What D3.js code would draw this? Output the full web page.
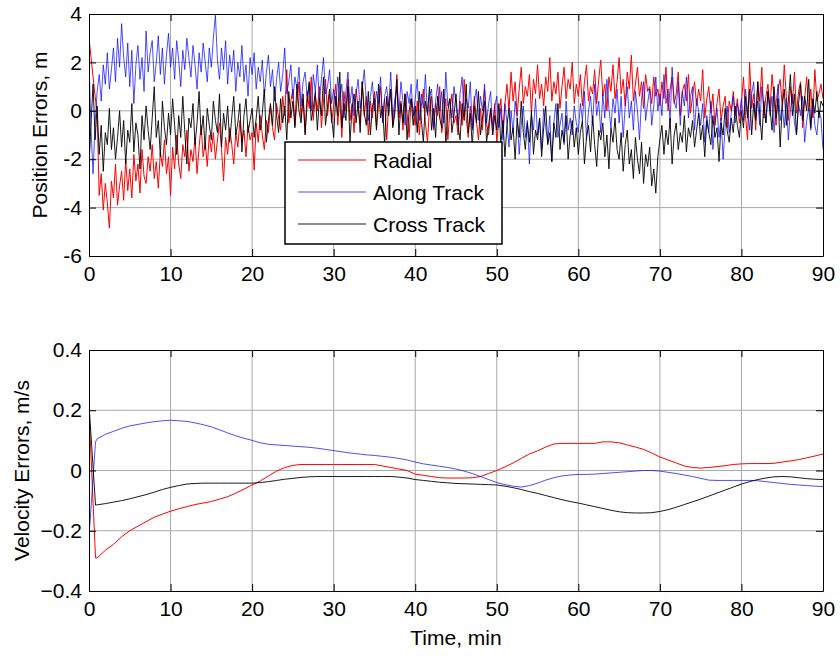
<!DOCTYPE html>
<html>
<head>
<meta charset="utf-8">
<script src="https://cdn.jsdelivr.net/npm/d3@7"></script>
<style>
  body { margin: 0; background: #fff; }
  svg { display: block; font-family: "Liberation Sans", Arial, sans-serif; }
</style>
</head>
<body>
<div id="chart"></div>
<script>
// ---- data: position errors, sampled every 0.25 min over 0..90 min ----
const radial = [
  3.0, 2.2, 1.4, 0.6, -0.1, -3.5, -2.6, -4.1, -3.0, -3.8, -4.85, -2.9, -3.6, -2.2, -3.9, -3.1, -2.5, -3.7, -2.0, -3.3,
  -2.4, -3.6, -1.8, -2.9, -2.2, -3.4, -1.6, -2.7, -3.0, -1.9, -2.5, -1.4, -2.8, -2.1, -3.2, -1.7, -2.3, -1.2, -2.6, -1.9,
  -3.5, -1.5, -2.4, -1.0, -2.2, -2.8, -1.4, -1.9, -0.8, -2.5, -1.6, -2.1, -1.1, -2.6, -1.5, -0.6, -1.9, -1.3, -2.3, -1.0,
  -1.7, -0.9, -2.0, -1.2, -0.5, -1.6, -2.9, -1.1, -1.8, -0.7, -1.4, -2.2, -0.9, -1.5, -0.4, -1.3, -0.8, -1.9, -0.6, -1.2,
  -0.9, -2.45, -0.5, -1.3, -0.2, -1.0, -1.6, -0.4, -0.9, 0.2, -0.7, -1.2, 0.3, -0.3, -0.8, 0.6, -0.2, 1.7, -0.5, 0.4,
  0.9, -0.6, 0.3, 1.2, -0.3, 0.5, -0.9, 0.8, 0.1, 1.4, -0.4, 0.6, 0.0, 1.0, -0.7, 0.4, 1.3, -0.2, 0.7, -0.5,
  0.2, 1.1, -0.6, 0.5, -1.1, 0.8, 0.0, 1.3, -0.4, 0.3, -0.9, 0.9, 0.1, -0.5, 1.2, -0.2, 0.6, -1.0, 0.4, -0.3,
  0.8, -0.7, 0.2, 1.0, -0.4, 0.5, -1.2, 0.3, 0.9, -0.6, 0.1, 1.5, -0.3, 0.4, -0.8, 0.7, -0.1, -1.1, 0.5, 0.0,
  -0.6, 0.4, -1.0, 0.2, 0.9, -0.5, -1.3, 0.1, 0.6, -0.8, 0.3, -0.2, 1.0, -0.9, -0.3, 0.5, -1.2, 0.0, 0.7, -0.5,
  -0.2, -1.0, 0.4, -0.6, 1.3, -0.3, -1.1, 0.2, -0.7, 0.6, -0.4, -1.2, 0.1, -0.8, 0.9, -0.5, -1.0, 0.0, -0.6, 0.3,
  -1.3, -0.4, 0.5, -0.9, 0.3, 1.1, 0.0, 1.6, 0.4, 1.2, -0.2, 0.9, 1.8, 0.3, 1.0, 0.6, 1.5, -0.1, 1.3, 0.7,
  1.9, 0.5, 1.1, 0.2, 1.4, 0.8, 2.2, 0.4, 1.2, 0.7, 1.6, 0.1, 1.0, 1.8, 0.5, 1.3, 0.9, 2.0, 0.3, 1.1,
  0.6, 1.5, 0.2, 1.2, 1.9, 0.4, 1.0, 0.7, 1.7, 0.3, 1.3, 2.1, 0.6, 1.1, 0.0, 1.4, 0.8, 1.9, 0.5, 1.2,
  2.2, 0.7, 1.3, 0.2, 1.6, 0.9, 2.3, 0.4, 1.1, 1.8, 0.6, 1.2, 0.1, 1.5, 0.8, 1.0, 0.3, 1.4, 0.6, 0.9,
  0.2, 1.2, 0.5, 1.8, 0.0, 0.9, 1.4, 0.3, 0.7, 1.6, -0.2, 0.8, 1.1, 0.4, 1.5, -0.1, 0.6, 1.2, 0.2, 0.9,
  0.4, 1.7, -0.3, 0.5, 1.0, -0.1, 0.7, -0.6, 0.3, 0.9, -0.4, 0.2, 0.6, -0.7, 0.4, 0.0, 0.8, -0.2, 0.5, -0.5,
  0.3, 1.4, -0.2, -1.2, 2.0, 0.1, 0.7, -0.8, 1.2, 0.4, 1.8, -0.3, 0.6, 1.1, 0.0, 1.5, 0.5, -0.6, 0.9, 1.3,
  0.2, 1.9, 0.6, -0.4, 1.0, 0.3, 1.6, -0.1, 0.8, 1.2, -0.7, 0.5, 1.4, 0.0, 0.9, -0.3, 1.7, 0.4, 0.7, 1.1,
  0.5
];
const alongTrack = [
  2.0, -0.8, -2.6, -0.5, 0.8, 1.5, 0.4, 1.9, 1.1, 2.4, 0.9, 1.7, 2.6, 1.2, 3.0, 1.8, 3.6, 2.2, 1.4, 2.8,
  1.0, 2.5, 0.3, 1.9, 2.7, 1.3, 2.2, 0.8, 3.3, 1.6, 2.4, 2.9, 1.2, 2.0, 3.1, 1.5, 2.6, 1.1, 2.3, 3.2,
  1.8, 2.6, 1.3, 2.9, 2.1, 1.0, 2.5, 1.7, 3.0, 2.2, 1.4, 2.7, 1.9, 0.9, 2.4, 1.6, 2.8, 2.0, 1.2, 2.6,
  1.8, 3.0, 3.95, 2.1, 1.3, 2.6, 1.7, 2.9, 1.1, 2.3, 1.6, 2.5, 0.8, 2.0, 1.4, 2.7, 1.2, 1.9, 0.6, 2.2,
  1.5, 2.4, 0.9, 1.8, 1.2, 2.1, 0.6, 1.6, 2.3, 1.0, 1.7, 0.4, 1.3, 2.0, 0.8, 1.5, 2.6, 0.7, 1.2, 1.9,
  0.5, 1.4, 0.9, 1.8, 0.2, 1.2, 1.6, 0.6, 1.1, 0.0, 1.5, 0.8, 1.9, 0.4, 1.3, 2.2, 0.7, 1.0, 1.7, 0.3,
  0.9, 0.2, 1.4, 0.5, 1.1, -0.3, 0.8, 1.6, 0.3, 1.0, -0.2, 0.7, 1.3, 0.1, 0.9, 1.7, 0.4, -0.4, 0.6, 1.2,
  0.0, 0.8, 0.3, 1.4, -0.5, 0.6, 1.0, 0.2, 1.6, -0.3, 0.5, 0.9, -0.1, 1.2, 0.4, -0.6, 0.8, 0.3, 1.1, -0.2,
  0.5, 1.3, -0.4, 0.7, 0.1, 1.5, -0.2, 0.6, 0.9, -0.7, 0.4, 1.1, 0.0, 0.8, -0.5, 1.6, 0.2, 0.5, -0.3, 1.0,
  0.3, -0.6, 0.7, 1.4, -0.2, 0.5, 0.1, 1.2, -0.8, 0.4, 0.9, -0.4, 0.6, 0.0, 1.1, -0.5, 0.3, 0.8, -1.0, 0.2,
  0.6, -0.7, 0.1, -1.2, 0.3, -0.5, -1.5, 0.0, -0.9, 0.4, -0.3, -1.8, -0.6, 0.2, -1.1, -0.4, -2.2, -0.2, -0.8, 0.5,
  -1.0, -0.3, -1.6, 0.1, -0.7, -1.3, -0.2, -2.1, -0.5, 0.3, -1.1, -0.6, -0.1, -1.4, 0.4, -0.8, -0.3, -1.0, 0.2, -0.5,
  -0.9, 0.3, -0.4, 0.8, -1.2, 0.0, 0.6, -0.6, 1.1, -0.2, 0.4, -0.9, 0.7, -0.3, 1.3, 0.1, -0.7, 0.5, -0.1, 0.9,
  -0.5, 0.6, -1.1, 0.2, 1.0, -0.3, 0.4, -0.8, 0.8, 0.0, -1.2, 0.5, 1.2, -0.4, 0.3, 0.9, -0.6, 0.2, 1.4, 0.0,
  0.7, -0.2, 1.5, 0.3, 0.9, -0.5, 1.8, 0.4, 0.1, 1.2, -0.6, 0.8, 0.2, 1.4, -0.3, 0.6, 1.0, -0.8, 0.5, 0.0,
  -0.6, 0.3, -1.3, -0.2, -0.9, 0.4, -1.6, -0.5, 0.1, -1.1, -0.3, -2.0, -0.7, 0.2, -0.9, -0.1, 0.6, -0.5, 0.3, -0.2,
  0.5, -0.4, 0.9, 0.0, -0.8, 0.7, 1.2, -0.3, 0.4, -0.6, 1.0, 0.1, -0.5, 0.8, -0.2, 0.6, -0.9, 0.3, 1.1, -0.4,
  0.2, -0.7, 0.5, -1.2, 0.0, 0.7, -0.5, -1.0, 0.3, -0.2, 0.6, -1.3, -0.4, 0.1, -0.8, 0.4, -0.6, -1.0, 0.0, -0.3,
  -1.6
];
const crossTrack = [
  -2.3, -0.5, 1.1, -1.2, 0.2, -1.8, -0.6, -2.5, -0.9, -1.4, 0.1, -1.6, -0.7, -2.0, -1.1, 0.0, -1.5, -0.4, -2.2, -0.8,
  -1.3, 0.3, -1.7, -0.5, -1.0, -2.4, -0.2, -1.2, 0.2, -0.8, -1.6, -0.3, 1.0, -1.1, -0.4, -1.9, 0.4, -0.7, -1.4, -0.1,
  -1.0, 0.5, -0.6, -1.8, -0.2, -1.1, 0.6, -0.9, -2.2, -0.3, -0.7, 0.3, -1.4, -0.5, 0.8, -1.0, -0.2, -1.6, 0.1, -0.6,
  -1.2, 0.4, -0.4, -0.9, 0.7, -1.5, -0.1, -0.8, 0.2, -1.3, -0.3, 0.6, -1.0, -0.5, 0.3, -1.7, -0.2, 0.5, -0.9, -0.4,
  0.1, -1.1, -0.3, 0.6, -0.8, -0.1, 0.9, -1.3, -0.4, 0.3, -0.6, 1.0, -0.2, -0.9, 0.5, -0.5, 0.2, -1.2, 0.8, -0.3,
  0.4, -0.7, 1.1, 0.0, -0.5, 0.7, -1.0, 0.3, 1.2, -0.4, 0.1, 0.8, -0.8, 0.5, -0.2, 1.4, -0.6, 0.2, 0.9, -0.3,
  -1.1, 0.6, -0.2, 1.6, -0.7, 0.3, -0.4, 1.0, -1.3, 0.1, 0.7, -0.5, 0.4, -0.9, 1.2, -0.1, -0.6, 0.8, -1.0, 0.2,
  0.5, -0.8, 1.1, -0.3, 0.2, -1.4, 0.6, -0.2, 0.9, -0.7, -0.1, 1.3, -1.0, 0.3, -0.5, 0.7, -1.2, 0.0, 0.5, -0.6,
  0.2, -0.9, 0.8, -0.4, -1.3, 0.4, -0.1, 1.0, -0.8, 0.1, -1.1, 0.6, -0.3, -0.7, 0.9, -1.4, 0.0, 0.5, -0.9, -0.2,
  0.7, -0.6, -1.2, 0.3, -0.4, 1.1, -0.9, -0.1, -1.5, 0.2, -0.5, 0.8, -1.0, -0.3, 0.4, -1.3, -0.6, 0.1, -1.0, -0.2,
  -0.8, 0.3, -1.4, -0.4, -1.9, -0.6, 0.1, -1.2, -0.7, -2.0, -0.3, -1.1, 0.4, -0.9, -1.6, -0.5, -1.3, 0.0, -1.8, -0.8,
  -1.2, -0.3, -1.9, -0.7, 0.2, -1.4, -0.9, -2.1, -0.5, -1.1, 0.3, -1.6, -0.8, -1.3, -0.2, -2.0, -1.0, -0.4, -1.5, -0.7,
  -1.8, -0.9, -0.4, -2.2, -1.1, -0.6, -1.7, -0.2, -1.4, -2.3, -0.8, -1.2, -0.5, -1.9, -1.0, -2.4, -0.7, -1.3, -0.3, -1.6,
  -2.0, -0.9, -2.5, -1.4, -0.8, -2.2, -1.6, -2.8, -1.1, -2.0, -2.6, -1.3, -3.0, -1.8, -2.3, -1.5, -3.1, -2.4, -3.4, -1.9,
  -1.2, -0.6, -1.8, -0.8, -1.4, -0.3, -2.2, -1.0, -0.5, -1.6, -0.9, -1.3, -0.2, -1.7, -0.7, -1.1, -0.4, -1.5, -0.8, -0.1,
  -1.2, -0.6, -1.9, -0.4, -0.9, -1.4, -0.2, -1.1, -0.7, -2.1, -0.5, -1.0, 0.1, -0.8, -1.3, -0.3, -0.9, 0.2, -0.6, -1.1,
  0.0, -0.7, 0.6, -0.3, 0.9, -1.0, 0.3, -0.4, 1.2, -0.2, -1.2, 0.4, -0.5, 0.8, 0.1, -0.8, 1.0, -0.3, 0.5, -1.5,
  0.2, 0.9, -0.6, 0.4, 1.5, -0.2, 0.7, -1.0, 0.3, 1.1, -0.4, 0.6, 0.0, 1.3, -0.7, 0.5, -0.1, 0.8, -0.3, 0.4,
  0.2
];

// ---- data: velocity errors ----
const velTime = [0, 0.8, ...d3.range(1, 91)];
const velRadial = [0.2, -0.29,
  -0.29, -0.265, -0.245, -0.22, -0.2, -0.185, -0.17, -0.155, -0.145, -0.135,
  -0.127, -0.12, -0.113, -0.108, -0.103, -0.095, -0.087, -0.075, -0.062, -0.048,
  -0.035, -0.018, -0.002, 0.01, 0.017, 0.02, 0.02, 0.02, 0.02, 0.02,
  0.02, 0.02, 0.02, 0.02, 0.02, 0.015, 0.01, 0.005, 0.0, -0.012,
  -0.016, -0.02, -0.024, -0.025, -0.025, -0.025, -0.024, -0.02, -0.01, 0.0,
  0.012, 0.025, 0.04, 0.055, 0.065, 0.078, 0.088, 0.09, 0.09, 0.09,
  0.09, 0.09, 0.095, 0.095, 0.092, 0.085, 0.078, 0.07, 0.058, 0.045,
  0.035, 0.025, 0.015, 0.01, 0.008, 0.01, 0.013, 0.016, 0.02, 0.022,
  0.023, 0.023, 0.023, 0.024, 0.028, 0.032, 0.036, 0.042, 0.048, 0.055];
const velAlong = [-0.22, 0.095,
  0.105, 0.12, 0.13, 0.14, 0.148, 0.153, 0.158, 0.162, 0.165, 0.167,
  0.165, 0.163, 0.158, 0.152, 0.145, 0.135, 0.125, 0.115, 0.107, 0.1,
  0.092, 0.087, 0.085, 0.083, 0.081, 0.079, 0.077, 0.074, 0.07, 0.066,
  0.062, 0.058, 0.055, 0.052, 0.05, 0.047, 0.044, 0.04, 0.035, 0.028,
  0.022, 0.018, 0.014, 0.01, 0.005, -0.002, -0.01, -0.02, -0.03, -0.04,
  -0.047, -0.052, -0.055, -0.05, -0.042, -0.032, -0.024, -0.018, -0.015, -0.013,
  -0.013, -0.012, -0.01, -0.008, -0.006, -0.004, -0.002, 0.0, 0.0, -0.002,
  -0.006, -0.01, -0.015, -0.02, -0.026, -0.032, -0.033, -0.033, -0.033, -0.033,
  -0.033, -0.034, -0.037, -0.04, -0.043, -0.046, -0.048, -0.05, -0.052, -0.053];
const velCross = [0.22, -0.115,
  -0.114, -0.11, -0.105, -0.1, -0.094, -0.087, -0.08, -0.072, -0.063, -0.056,
  -0.05, -0.045, -0.043, -0.042, -0.042, -0.042, -0.042, -0.042, -0.042, -0.042,
  -0.04, -0.037, -0.033, -0.029, -0.026, -0.023, -0.021, -0.02, -0.02, -0.02,
  -0.02, -0.02, -0.02, -0.02, -0.02, -0.02, -0.02, -0.022, -0.025, -0.03,
  -0.033, -0.036, -0.039, -0.041, -0.043, -0.044, -0.045, -0.046, -0.047, -0.048,
  -0.052, -0.057, -0.063, -0.07, -0.076, -0.083, -0.09, -0.097, -0.103, -0.108,
  -0.114, -0.12, -0.126, -0.132, -0.137, -0.14, -0.141, -0.141, -0.14, -0.136,
  -0.13, -0.122, -0.113, -0.104, -0.095, -0.085, -0.075, -0.065, -0.055, -0.045,
  -0.037, -0.03, -0.025, -0.021, -0.02, -0.021, -0.024, -0.027, -0.029, -0.03];

const xTicks = [0, 10, 20, 30, 40, 50, 60, 70, 80, 90];
const posTicks = [-6, -4, -2, 0, 2, 4];
const velTicks = [-0.4, -0.2, 0, 0.2, 0.4];
const legendNames = ["Radial", "Along Track", "Cross Track"];
const colors = ["#ff0000", "#0000ff", "#000000"];
const widths = [1, 0.7, 0.9];

// ---- layout ----
const W = 840, H = 656;
const FONT = 21;
const svg = d3.select("#chart").append("svg").attr("width", W).attr("height", H);

function makePanel(top, bottom, yDomain, yTicks, fmt, label, labelX, id) {
  const x = d3.scaleLinear().domain([0, 90]).range([89, 823]);
  const y = d3.scaleLinear().domain(yDomain).range([bottom, top]);
  const g = svg.append("g");

  // grid
  g.append("g").selectAll("line").data(xTicks.slice(1, -1)).join("line")
    .attr("x1", d => x(d)).attr("x2", d => x(d)).attr("y1", top).attr("y2", bottom)
    .attr("stroke", "#a8a8a8").attr("stroke-width", 1);
  g.append("g").selectAll("line").data(yTicks.slice(1, -1)).join("line")
    .attr("y1", d => y(d)).attr("y2", d => y(d)).attr("x1", x(0)).attr("x2", x(90))
    .attr("stroke", "#a8a8a8").attr("stroke-width", 1);

  svg.append("clipPath").attr("id", id).append("rect")
    .attr("x", x(0)).attr("y", top).attr("width", x(90) - x(0)).attr("height", bottom - top);
  const plot = g.append("g").attr("clip-path", `url(#${id})`);

  const axes = g.append("g");
  const style = sel => sel.attr("font-size", FONT).attr("font-family", "Liberation Sans, Arial, sans-serif")
    .call(s => s.selectAll("line").attr("stroke", "#000"))
    .call(s => s.selectAll("path").attr("stroke", "#000"))
    .call(s => s.selectAll("text").attr("fill", "#000"));

  axes.append("g").attr("transform", `translate(0,${bottom})`)
    .call(d3.axisBottom(x).tickValues(xTicks).tickSizeInner(-7).tickSizeOuter(0).tickPadding(10))
    .call(style);
  axes.append("g").attr("transform", `translate(0,${top})`)
    .call(d3.axisTop(x).tickValues(xTicks).tickSizeInner(-7).tickSizeOuter(0).tickFormat(""))
    .call(style);
  axes.append("g").attr("transform", `translate(${x(0)},0)`)
    .call(d3.axisLeft(y).tickValues(yTicks).tickSizeInner(-7).tickSizeOuter(0).tickPadding(7).tickFormat(fmt))
    .call(style);
  axes.append("g").attr("transform", `translate(${x(90)},0)`)
    .call(d3.axisRight(y).tickValues(yTicks).tickSizeInner(-7).tickSizeOuter(0).tickFormat(""))
    .call(style);

  svg.append("text")
    .attr("transform", `translate(${labelX},${(top + bottom) / 2}) rotate(-90)`)
    .attr("text-anchor", "middle").attr("font-size", FONT).text(label);

  return { x, y, plot };
}

// top panel: position errors
const p1 = makePanel(14, 256, [-6, 4], posTicks, d => String(d), "Position Errors, m", 47, "clipTop");
const posSeries = [radial, alongTrack, crossTrack];
posSeries.forEach((vals, k) => {
  const step = 90 / (vals.length - 1);
  const line = d3.line().x((d, i) => p1.x(i * step)).y(d => p1.y(d));
  p1.plot.append("path").datum(vals)
    .attr("fill", "none").attr("stroke", colors[k]).attr("stroke-width", widths[k])
    .attr("stroke-linejoin", "round").attr("d", line);
});

// legend
const leg = svg.append("g");
leg.append("rect").attr("x", 285).attr("y", 142).attr("width", 217).attr("height", 102)
  .attr("fill", "#fff").attr("stroke", "#000").attr("stroke-width", 1.5);
legendNames.forEach((name, k) => {
  const yy = 160 + k * 32;
  leg.append("line").attr("x1", 298).attr("x2", 366).attr("y1", yy).attr("y2", yy)
    .attr("stroke", colors[k]).attr("stroke-width", widths[k]);
  leg.append("text").attr("x", 373).attr("y", yy + 7.5).attr("font-size", FONT).text(name);
});

// bottom panel: velocity errors
const p2 = makePanel(350, 591, [-0.4, 0.4], velTicks, d => d === 0 ? "0" : d3.format(".1f")(d), "Velocity Errors, m/s", 29, "clipBot");
[velRadial, velAlong, velCross].forEach((vals, k) => {
  const line = d3.line().x((d, i) => p2.x(velTime[i])).y(d => p2.y(d));
  p2.plot.append("path").datum(vals)
    .attr("fill", "none").attr("stroke", colors[k]).attr("stroke-width", widths[k]).attr("d", line);
});

svg.append("text").attr("x", 456).attr("y", 645).attr("text-anchor", "middle")
  .attr("font-size", FONT).text("Time, min");
</script>
</body>
</html>
